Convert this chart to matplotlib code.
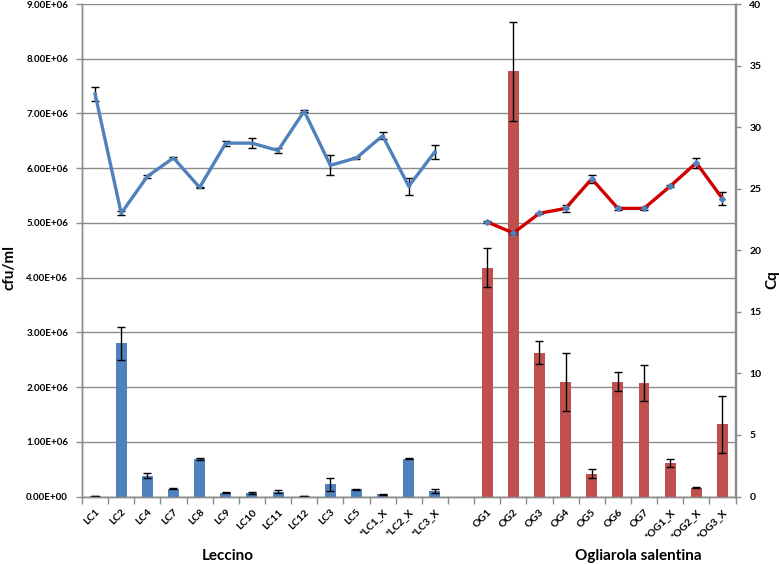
import numpy as np
import matplotlib
matplotlib.use("Agg")
import matplotlib.pyplot as plt
from matplotlib.ticker import FuncFormatter, FixedLocator

plt.rcParams['font.family'] = ['Lato', 'DejaVu Sans']
plt.rcParams['font.weight'] = 'bold'

# ---- data ----
leccino_labels = ['LC1', 'LC2', 'LC4', 'LC7', 'LC8', 'LC9', 'LC10', 'LC11', 'LC12',
                  'LC3', 'LC5', '*LC1_X', '*LC2_X', '*LC3_X']
leccino_cfu = [0.01e6, 2.80e6, 0.38e6, 0.14e6, 0.68e6, 0.07e6, 0.06e6, 0.09e6, 0.01e6,
               0.22e6, 0.13e6, 0.04e6, 0.69e6, 0.10e6]
leccino_cfu_err = [0.005e6, 0.30e6, 0.045e6, 0.01e6, 0.02e6, 0.01e6, 0.02e6, 0.02e6, 0.005e6,
                   0.12e6, 0.01e6, 0.01e6, 0.01e6, 0.04e6]
leccino_cq = [32.7, 23.0, 26.0, 27.5, 25.1, 28.7, 28.7, 28.1, 31.3, 26.9, 27.5, 29.3, 25.2, 28.0]
leccino_cq_err = [0.55, 0.15, 0.1, 0.05, 0.05, 0.2, 0.4, 0.2, 0.1, 0.8, 0.1, 0.3, 0.7, 0.55]

ogliarola_labels = ['OG1', 'OG2', 'OG3', 'OG4', 'OG5', 'OG6', 'OG7',
                    '*OG1_X', '*OG2_X', '*OG3_X']
ogliarola_cfu = [4.18e6, 7.77e6, 2.63e6, 2.09e6, 0.42e6, 2.10e6, 2.08e6, 0.61e6, 0.16e6, 1.32e6]
ogliarola_cfu_err = [0.36e6, 0.90e6, 0.21e6, 0.53e6, 0.09e6, 0.17e6, 0.33e6, 0.07e6, 0.01e6, 0.52e6]
ogliarola_cq = [22.3, 21.4, 23.0, 23.4, 25.8, 23.4, 23.4, 25.2, 27.1, 24.2]
ogliarola_cq_err = [0.1, 0.1, 0.05, 0.3, 0.3, 0.1, 0.1, 0.1, 0.4, 0.5]

group_names = ['Leccino', 'Ogliarola salentina']
left_ticks = [0, 1e6, 2e6, 3e6, 4e6, 5e6, 6e6, 7e6, 8e6, 9e6]
right_ticks = [0, 5, 10, 15, 20, 25, 30, 35, 40]

# ---- styling ----
BLUE = '#4F81BD'
RED_BAR = '#C0504D'
RED_LINE = '#D00000'
GRID = '#8C8C8C'

nL = len(leccino_labels)
nO = len(ogliarola_labels)
xL = np.arange(nL)
xO = np.arange(nO) + nL + 1
n_slots = nL + 1 + nO

fig = plt.figure(figsize=(7.79, 5.64), dpi=100)
ax = fig.add_axes([82 / 779, 1 - 496.5 / 564, (735.5 - 82) / 779, (496.5 - 4) / 564])
ax2 = ax.twinx()

bw = 0.42
ekw = dict(ecolor='black', elinewidth=1.0, capsize=3, capthick=1.0)
ax.bar(xL, leccino_cfu, width=bw, color=BLUE, yerr=leccino_cfu_err, error_kw=ekw, zorder=3)
ax.bar(xO, ogliarola_cfu, width=bw, color=RED_BAR, yerr=ogliarola_cfu_err, error_kw=ekw, zorder=3)

ax.set_xlim(-0.5, n_slots - 0.5)
ax.set_ylim(0, 9e6)
ax.yaxis.set_major_locator(FixedLocator(left_ticks))
ax.yaxis.set_major_formatter(FuncFormatter(lambda v, p: f"{v:.2E}"))
ax.grid(axis='y', color=GRID, linewidth=1.0, zorder=0)
ax.set_axisbelow(True)

ax.set_xticks(list(xL) + list(xO))
ax.set_xticklabels(leccino_labels + ogliarola_labels, rotation=45, ha='right', va='top',
                   rotation_mode='anchor', fontsize=7.5, fontweight='bold')
ax.set_xticks(np.arange(n_slots + 1) - 0.5, minor=True)
ax.tick_params(axis='x', which='major', length=0, pad=8)
ax.tick_params(axis='x', which='minor', length=5, color=GRID, width=1)
ax.tick_params(axis='y', length=4, color=GRID, width=1, labelsize=7, pad=6)
for lab in ax.get_yticklabels():
    lab.set_fontweight('bold')

# lines (Cq)
ax2.errorbar(xL, leccino_cq, yerr=leccino_cq_err, color=BLUE, linewidth=2.4,
             marker='o', markersize=1.5, markerfacecolor=BLUE, markeredgecolor=BLUE,
             ecolor='black', elinewidth=1.0, capsize=3, capthick=1.0, zorder=4)
ax2.errorbar(xO, ogliarola_cq, yerr=ogliarola_cq_err, color=RED_LINE, linewidth=2.4,
             marker='D', markersize=3, markerfacecolor=BLUE, markeredgecolor=BLUE,
             ecolor='black', elinewidth=1.0, capsize=3, capthick=1.0, zorder=4)
ax2.set_ylim(0, 40)
ax2.yaxis.set_major_locator(FixedLocator(right_ticks))
ax2.tick_params(axis='y', length=4, color=GRID, width=1, labelsize=7.5, pad=6)
for lab in ax2.get_yticklabels():
    lab.set_fontweight('bold')

for a in (ax, ax2):
    a.spines['top'].set_visible(False)
    for s in ('left', 'right', 'bottom'):
        a.spines[s].set_color(GRID)
        a.spines[s].set_linewidth(1.0)

fig.text(10 / 779, 1 - 268 / 564, 'cfu/ml', rotation=90, ha='center', va='center',
         fontsize=11, fontweight='bold')
fig.text(772 / 779, 1 - 280 / 564, 'Cq', rotation=90, ha='center', va='center',
         fontsize=11, fontweight='bold')
fig.text(228 / 779, 1 - 556 / 564, group_names[0], ha='center', va='center',
         fontsize=11, fontweight='bold')
fig.text(638 / 779, 1 - 556 / 564, group_names[1], ha='center', va='center',
         fontsize=11, fontweight='bold')

fig.savefig('out.png', dpi=100)
